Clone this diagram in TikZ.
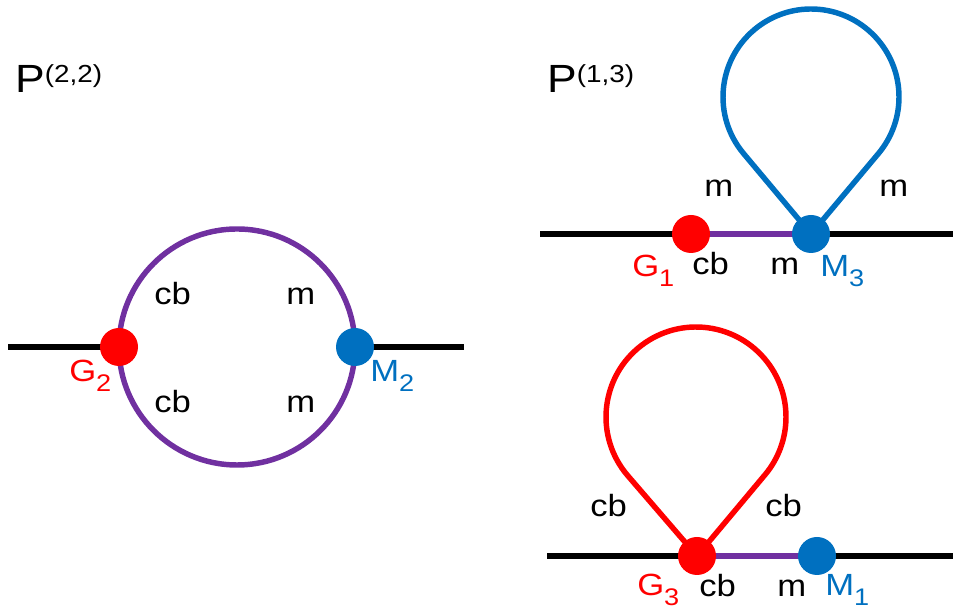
\documentclass[tikz,border=0pt]{standalone}
\usepackage{fontspec}
\setmainfont[FakeStretch=1.13]{Liberation Sans}
\usetikzlibrary{calc,backgrounds}
\definecolor{pptred}{HTML}{FF0000}
\definecolor{pptblue}{HTML}{0070C0}
\definecolor{pptpurple}{HTML}{7030A0}
\newcommand\mysub[1]{\raisebox{-7pt}{\fontsize{18}{18}\selectfont #1}}
\newcommand\mysup[1]{\raisebox{7.5pt}{\fontsize{18.5}{18.5}\selectfont #1}}
\begin{document}
\begin{tikzpicture}[x=0.75pt,y=0.75pt,
  ext/.style={line width=4.6pt,black},
  prop/.style={line width=4.1pt,line join=round},
  vtx/.style={circle,fill,inner sep=0pt,minimum size=28.5pt},
  lbl/.style={anchor=base west,inner sep=0pt,font=\fontsize{23}{23}\selectfont},
  ttl/.style={anchor=base west,inner sep=0pt,font=\fontsize{29.5}{29.5}\selectfont}]
\useasboundingbox (0,0) rectangle (953,609);

% vertices
\node[vtx,pptred]  (G2) at (119,262) {};
\node[vtx,pptblue] (M2) at (355,262) {};
\node[vtx,pptred]  (G1) at (691,375) {};
\node[vtx,pptblue] (M3) at (811,375) {};
\node[vtx,pptred]  (G3) at (697,53) {};
\node[vtx,pptblue] (M1) at (817,53) {};

\coordinate (e1) at (8,262);
\coordinate (e2) at (464,262);
\coordinate (e3) at (540,375);
\coordinate (e4) at (953,375);
\coordinate (e5) at (547,53);
\coordinate (e6) at (953,53);
\coordinate (c1) at (237,262);
\coordinate (c2) at (811,512);
\coordinate (c3) at (696,192);

\begin{pgfonlayer}{background}
  % P(2,2)
  \draw[ext] (e1) -- (G2.center);
  \draw[ext] (M2.center) -- (e2);
  \draw[prop,pptpurple] (c1) circle[radius=118];
  % P(1,3) top
  \draw[ext] (e3) -- (e4);
  \draw[prop,pptpurple] (G1.center) -- (M3.center);
  \draw[prop,pptblue] (M3.center) -- ($(c2)+(220:88)$) arc[start angle=220,end angle=-40,radius=88] -- cycle;
  % P(1,3) bottom
  \draw[ext] (e5) -- (e6);
  \draw[prop,pptpurple] (G3.center) -- (M1.center);
  \draw[prop,pptred] (G3.center) -- ($(c3)+(220.4:90)$) arc[start angle=220.4,end angle=-40.4,radius=90] -- cycle;
\end{pgfonlayer}

% titles
\node[ttl] (t1) at (15,516) {P\mysup{(2,2)}};
\node[ttl] (t2) at (547,516) {P\mysup{(1,3)}};

% left labels
\node[lbl] (l1) at (154,304) {cb};
\node[lbl] (l2) at (286,304) {m};
\node[lbl] (l3) at (154,196) {cb};
\node[lbl] (l4) at (286,196) {m};
\node[lbl,pptred]  (l5) at (69,227) {G\mysub{2}};
\node[lbl,pptblue] (l6) at (370,227) {M\mysub{2}};

% top right labels
\node[lbl] (r1) at (704,412) {m};
\node[lbl] (r2) at (879,412) {m};
\node[lbl] (r3) at (692,334) {cb};
\node[lbl] (r4) at (770,334) {m};
\node[lbl,pptred]  (r5) at (632,332) {G\mysub{1}};
\node[lbl,pptblue] (r6) at (820,332) {M\mysub{3}};

% bottom right labels
\node[lbl] (b1) at (590,92) {cb};
\node[lbl] (b2) at (765,92) {cb};
\node[lbl,pptred]  (b3) at (637,13) {G\mysub{3}};
\node[lbl] (b4) at (699,12) {cb};
\node[lbl] (b5) at (777,12) {m};
\node[lbl,pptblue] (b6) at (825,13) {M\mysub{1}};
\end{tikzpicture}
\end{document}
